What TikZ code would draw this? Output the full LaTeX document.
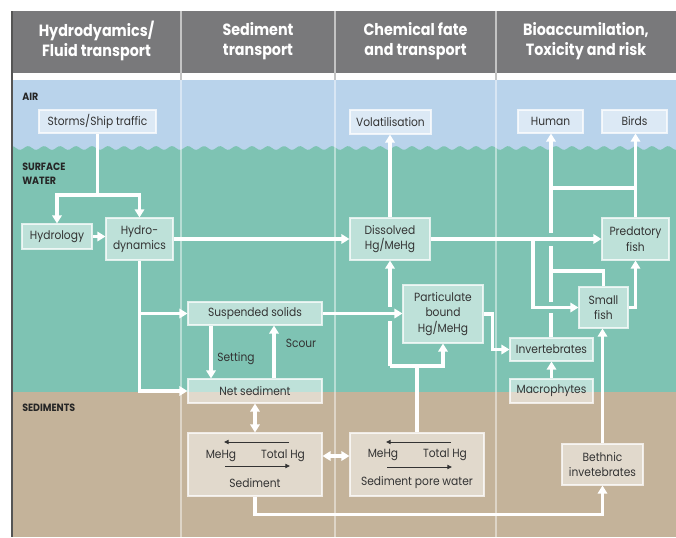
\documentclass[tikz,border=0pt]{standalone}
\usepackage{fontspec}
\setmainfont[FakeStretch=0.9]{Poppins}
\newfontfamily\hdrfont[FakeStretch=0.88]{Poppins}
\usetikzlibrary{arrows.meta,calc}
\definecolor{hdr}{HTML}{79797B}
\definecolor{air}{HTML}{B9D3EB}
\definecolor{water}{HTML}{7EC3B3}
\definecolor{sed}{HTML}{C4B39A}
\definecolor{ink}{HTML}{333333}
\definecolor{hdrline}{HTML}{C4C4C4}
\definecolor{edge}{HTML}{555555}
\newcommand\mkbox[6]{\node[box,minimum width={(#4-#2)*0.75pt},minimum height={(#5-#3)*0.75pt}] (#1) at ({(#2+#4)/2},{(#3+#5)/2}) {#6};}
\begin{document}
\begin{tikzpicture}[x=0.75pt,y=-0.75pt,
  box/.style={draw=white,draw opacity=0.75,fill=white,fill opacity=0.5,text opacity=1,text=ink,inner sep=0pt,line width=0.8pt,align=center,font=\fontsize{8.9}{11.5}\selectfont},
  conn/.style={draw=white,line width=2.3pt},
  arr/.style={-{Triangle[width=7pt,length=6pt]}},
  darr/.style={{Triangle[width=7pt,length=6pt]}-{Triangle[width=7pt,length=6pt]}},
  hdrtxt/.style={text=white,align=center,font=\hdrfont\bfseries\fontsize{12.2}{15.5}\selectfont},
  lbl/.style={anchor=west,inner sep=0pt,align=left,text=black!85,font=\bfseries\fontsize{7.9}{10.5}\selectfont},
  txt/.style={inner sep=0pt,text=ink,font=\fontsize{8.9}{10}\selectfont},
  blk/.style={draw=ink,line width=0.7pt,-{Triangle[width=3.2pt,length=3.5pt]}},
  div/.style={draw=white,draw opacity=0.45,line width=0.8pt}]
\useasboundingbox (0,0) rectangle (676,537);
\fill[white] (0,0) rectangle (676,537);
% layers
\fill[hdr] (12,11) rectangle (676,73);
\fill[air] (12,80) rectangle (676,160);
\fill[water] (12,148) -- plot[domain=12:676,samples=300,smooth] (\x,{148+1.9*sin(\x*22.5)}) -- (676,392) -- (12,392) -- cycle;
\fill[sed] (12,392) rectangle (676,537);
% dividers
\foreach \xx in {181,335,496}{
  \draw[hdrline,line width=0.8pt] (\xx,11) -- (\xx,80);
  \draw[div] (\xx,80) -- (\xx,537);
}
\draw[edge,line width=1.1pt] (12,11) -- (12,537);
% header texts
\node[hdrtxt] (h1) at (96.5,41) {Hydrodyamics/\\Fluid transport};
\node[hdrtxt] (h2) at (258,41) {Sediment\\transport};
\node[hdrtxt] (h3) at (415.5,41) {Chemical fate\\and transport};
\node[hdrtxt] (h4) at (586,41) {Bioaccumilation,\\Toxicity and risk};
% layer labels
\node[lbl] (lair) at (22,97) {AIR};
\node[lbl] (lwat) at (22,174) {SURFACE\\WATER};
\node[lbl] (lsed) at (22,408) {SEDIMENTS};
% boxes
\mkbox{storms}{39}{110}{156}{133}{Storms/Ship traffic}
\mkbox{volat}{350}{110}{431}{134}{Volatilisation}
\mkbox{human}{518}{110}{583}{133}{Human}
\mkbox{birds}{602}{110}{667}{133}{Birds}
\mkbox{hydrol}{22}{224}{92}{249}{Hydrology}
\mkbox{hydrod}{106}{218}{173}{260}{Hydro-\\dynamics}
\mkbox{dissolved}{350}{218}{430}{260}{Dissolved\\Hg/MeHg}
\mkbox{predatory}{602}{218}{669}{260}{Predatory\\fish}
\mkbox{susp}{188}{302}{322}{325}{Suspended solids}
\mkbox{partic}{403}{285}{483}{343}{Particulate\\bound\\Hg/MeHg}
\mkbox{smallfish}{579}{287}{628}{328}{Small\\fish}
\mkbox{invert}{510}{338}{593}{361}{Invertebrates}
\mkbox{macro}{510}{379}{593}{403}{Macrophytes}
\mkbox{netsed}{188}{379}{322}{403}{Net sediment}
\mkbox{sedbox}{188}{433}{322}{496}{}
\mkbox{porebox}{350}{433}{484}{496}{}
\mkbox{bethnic}{562}{444}{643}{485}{Bethnic\\invetebrates}
% inner contents
\draw[blk] (289,442) -- (224,442);
\draw[blk] (225,466) -- (290,466);
\node[txt] (m1) at (221,456) {MeHg};
\node[txt] (t1) at (283,456) {Total Hg};
\node[txt] (s1) at (255,483) {Sediment};
\draw[blk] (451,442) -- (386,442);
\draw[blk] (387,467) -- (452,467);
\node[txt] (m2) at (383,455) {MeHg};
\node[txt] (t2) at (445,455) {Total Hg};
\node[txt] (s2) at (417,483) {Sediment pore water};
% helper coordinates
\coordinate (ya) at (0,195);
\coordinate (yb) at (0,366);
\coordinate (yc) at (0,188);
\coordinate (yd) at (0,271);
\coordinate (ye) at (0,456);
\coordinate (xset) at (211,0);
\coordinate (xsc) at (274,0);
\coordinate (xbr) at (533,0);
\coordinate (xv) at (551,0);
% connectors
\draw[conn,arr] (storms.south) -- (storms.south |- ya) -| (hydrol.north);
\draw[conn,arr] (storms.south |- ya) -| (hydrod.north);
\draw[conn,arr] (hydrol.east) -- (hydrol.east -| hydrod.west);
\draw[conn,arr] (hydrod.east) -- (hydrod.east -| dissolved.west);
\draw[conn,arr] (hydrod.south) |- (susp.west);
\draw[conn,arr] (hydrod.south) |- (netsed.west);
\draw[conn,arr] (susp.south -| xset) -- (netsed.north -| xset);
\draw[conn,arr] (netsed.north -| xsc) -- (susp.south -| xsc);
\node[txt] (setlbl) at (236,359) {Setting};
\node[txt] (sclbl) at (301,343) {Scour};
\draw[conn,arr] (susp.east) -- (susp.east -| partic.west);
\draw[conn,arr] (dissolved.north) -- (dissolved.north |- volat.south);
\draw[conn] (porebox.north) -- (porebox.north |- yb);
\draw[conn,arr] (dissolved.south |- yb) -| (partic.south);
\draw[conn] (dissolved.south |- yb) -- ++(0,-45);
\draw[conn,arr] ($(dissolved.south)+(0,46)$) -- (dissolved.south);
\draw[conn,arr] (partic.east) -- ++(9,0) |- (invert.west);
\draw[conn,arr] (macro.north) -- (invert.south);
\draw[conn] (invert.north -| xv) -- ++(0,-24.5);
\draw[conn] ($(smallfish.west -| xv)+(0,-6)$) -- ($(dissolved.east -| xv)+(0,6.5)$);
\draw[conn,arr] ($(dissolved.east -| xv)+(0,-6.5)$) -- (human.south -| xv);
\draw[conn] (xv |- yc) -- (predatory.north |- yc);
\draw[conn,arr] (predatory.north) -- (predatory.north |- birds.south);
\draw[conn,arr] (dissolved.east) -- (dissolved.east -| predatory.west);
\draw[conn,arr] (dissolved.east -| xbr) |- (smallfish.west);
\draw[conn] (smallfish.north) |- (xv |- yd);
\draw[conn,arr] (smallfish.east) -| (predatory.south);
\draw[conn,arr] (bethnic.north) -- (bethnic.north |- smallfish.south);
\draw[conn,arr] (sedbox.south) -- ++(0,18) -| (bethnic.south);
\draw[conn,darr] (netsed.south) -- (sedbox.north);
\draw[conn,darr] (sedbox.east |- ye) -- (porebox.west |- ye);
\end{tikzpicture}
\end{document}
